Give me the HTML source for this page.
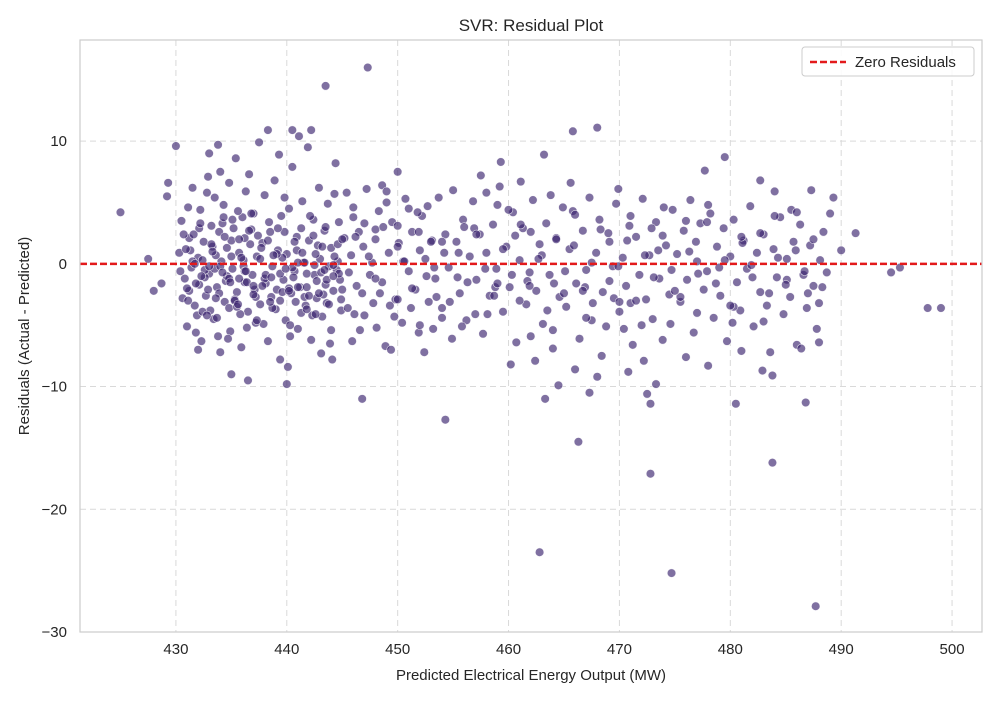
<!DOCTYPE html>
<html><head><meta charset="utf-8">
<style>
html,body{margin:0;padding:0;background:#fff;}
svg text{font-family:"Liberation Sans","DejaVu Sans",sans-serif;fill:#262626;}
</style></head>
<body>
<svg id="chart" width="1000" height="700" xmlns="http://www.w3.org/2000/svg">
<rect x="0" y="0" width="1000" height="700" fill="#fff"/>
<g id="grid"></g>
<g id="points"></g>
<g id="zero"></g>
<rect x="80" y="40" width="902" height="592" fill="none" stroke="#ccc" stroke-width="1.2"/>
<g id="ticks"></g>
<text x="531" y="31" text-anchor="middle" font-size="17">SVR: Residual Plot</text>
<text x="531" y="680" text-anchor="middle" font-size="15">Predicted Electrical Energy Output (MW)</text>
<text transform="translate(29,336) rotate(-90)" text-anchor="middle" font-size="15">Residuals (Actual - Predicted)</text>
<g>
<rect x="802" y="47" width="172" height="29" rx="3" fill="#fff" fill-opacity="0.85" stroke="#ccc"/>
<line x1="810" y1="62" x2="846" y2="62" stroke="#e31a1c" stroke-width="2.5" stroke-dasharray="7,3"/>
<text x="855" y="67" font-size="15">Zero Residuals</text>
</g>
</svg>
<script>
const xTicks=[430,440,450,460,470,480,490,500];
const yTicks=[-30,-20,-10,0,10];
const predicted=[425,427.5,428,428.7,429.3,429.2,430,447.3,443.5,446.8,454.3,462.8,474.7,487.7,472.8,483.8,466.3,497.8,499,494.5,495.3,491.3,490,468,465.8,436.5,435,440,480.5,486.8,463.3,464.5,467.3,472.5,472.8,473.3,487.3,479.5,477.7,482.7,438.3,442.2,440.5,433.8,437.5,463.2,459.3,455,450,448.6,
430.5,430.8,431,431.2,431.5,431.7,432,432.2,432.3,432.5,432.7,432.9,433,433.2,433.4,433.5,433.7,433.9,434,434.1,434.3,434.4,434.6,434.8,434.9,435.1,435.2,435.4,435.5,435.7,435.9,436,436.2,436.3,436.5,436.7,436.9,437,437.2,437.4,430.3,430.6,431.1,431.4,431.9,432.1,432.6,432.8,433.1,433.6,433.8,434.2,434.5,434.7,435,435.3,435.6,435.8,436.1,436.4,436.6,436.8,437.1,437.3,431.3,432.4,433.3,434.8,435.7,436.2,433,432,434,431.8,
437.6,437.8,438,438.1,438.3,438.5,438.7,438.9,439,439.2,439.4,439.5,439.7,439.9,440,440.2,440.4,440.5,440.7,440.9,441,441.2,441.4,441.5,441.7,441.9,442,442.2,442.4,442.5,442.7,442.9,443,443.2,443.4,443.5,443.7,443.9,444,444.2,444.4,444.5,444.7,444.9,437.9,438.4,439.1,439.8,440.3,440.8,441.3,441.8,442.3,442.8,443.3,443.8,444.3,444.8,438.6,439.6,440.6,441.6,442.6,443.6,444.6,439.3,441.1,440.1,443.1,444.1,
445.2,445.5,445.8,446,446.3,446.6,446.9,447.2,447.5,447.8,448,448.3,448.6,448.9,449.2,449.5,449.8,450.1,450.4,450.7,451,451.3,451.6,451.9,452.2,452.5,452.8,453.1,453.4,453.7,454,454.3,454.6,454.9,445.4,446.1,447,447.7,448.4,449,449.7,450.5,451.2,452,452.7,453.5,454.2,446.5,448.1,450,451.8,453.2,445.9,449.4,452.4,
455.3,455.6,455.9,456.2,456.5,456.8,457.1,457.4,457.7,458,458.3,458.6,458.9,459.2,459.5,459.8,460.1,460.4,460.7,461,461.3,461.6,461.9,462.2,462.5,462.8,463.1,463.4,463.7,464,464.3,464.6,464.9,455.8,456.9,458.1,459,460.2,461.1,462,463,464.1,457.5,460.6,462.4,463.8,455.4,458.8,461.7,
465.2,465.5,465.8,466.1,466.4,466.7,467,467.3,467.6,467.9,468.2,468.5,468.8,469.1,469.4,469.7,470,470.3,470.6,470.9,471.2,471.5,471.8,472.1,472.4,472.7,473,473.3,473.6,473.9,474.2,474.5,474.8,466,468.4,469.9,471,472.2,473.5,474.6,465.6,467.5,470.4,472.9,466.9,469.5,468,470.8,
475.2,475.5,475.8,476.1,476.4,476.7,477,477.3,477.6,477.9,478.2,478.5,478.8,479.1,479.4,479.7,480,480.3,480.6,480.9,481.2,481.5,481.8,482.1,482.4,482.7,483,483.3,483.6,483.9,484.2,484.5,484.8,485.1,485.4,485.7,486,486.3,486.6,486.9,487.2,487.5,487.8,488.1,488.4,488.7,489,489.3,476,478,481,483.8,485.5,487,479,482,484,476.9,480.2,482.9,486.4,488,
430.4,430.9,431.2,431.6,432.1,432.4,432.8,433.2,433.5,433.9,434.3,434.6,435,435.3,435.7,436.1,436.4,436.8,437.2,437.6,438,438.3,438.7,439.1,439.4,439.8,440.2,440.5,440.9,441.3,441.6,442,442.4,442.7,443.1,443.5,443.8,444.2,444.6,444.9,
430.7,431.1,431.5,431.8,432.2,432.6,432.9,433.3,433.7,434,434.4,434.8,435.1,435.5,435.9,436.2,436.6,437,437.3,437.7,438.1,438.5,438.8,439.2,439.6,439.9,440.3,440.7,441,441.4,441.8,442.1,442.5,442.9,443.2,443.6,444,444.3,444.7,445,
431,431.7,432.3,433,433.6,434.2,434.9,435.6,436.3,437,437.8,438.6,439.4,440.2,441,441.8,442.6,443.4,444.2,445,
445.6,446.2,446.8,447.4,448,448.7,449.3,450,450.6,451.3,451.9,452.6,453.3,454,454.7,455.5,456.3,457.1,457.9,458.7,459.5,460.3,461.1,461.9,462.7,463.5,464.3,465.1,465.9,466.7,467.5,468.3,469.1,469.9,470.7,471.5,472.3,473.1,473.9,474.7,475.5,476.3,477.1,477.9,478.7,479.5,480.3,481.1,481.9,482.7,483.5,484.3,485.1,485.9,486.7,487.5,488.3,
446,447,448,449,450,451,452,453,454,456,457,458,459,460,461,462,464,465,466,467,469,470,471,472,474,475,476,477,478,480,481,483,484,485,486,488];
const residual=[4.2,0.4,-2.2,-1.6,6.6,5.5,9.6,16,14.5,-11,-12.7,-23.5,-25.2,-27.9,-17.1,-16.2,-14.5,-3.6,-3.6,-0.7,-0.3,2.5,1.1,11.1,10.8,-9.5,-9,-9.8,-11.4,-11.3,-11,-9.9,-10.5,-10.6,-11.4,-9.8,6,8.7,7.6,6.8,10.9,10.9,10.9,9.7,9.9,8.9,8.3,6,7.5,6.4,
3.5,-1.2,-5.1,2.1,6.2,-3.4,0.5,4.4,-6.3,1.8,-2.6,7.1,-0.8,3.1,-4.5,5.4,-1.9,2.6,-7.2,0.2,4.8,-3.1,1.3,6.6,-5.5,-0.4,2.9,8.6,-2.3,0.9,-6.8,3.8,-1.5,5.9,-3.9,1.6,-0.9,4.1,-4.8,2.3,0.9,-2.8,4.6,-0.3,-4.2,2.9,-1.1,5.8,-3.8,0.7,-5.9,3.3,-1.4,-6.1,1.9,-2.9,4.3,-4.1,0.3,-5.2,7.3,2.8,-2.1,0.6,1.1,-3.9,1.4,-3.6,-1.2,2.1,9,-7,7.5,-5.6,
-3.3,1.7,5.6,-1.6,-6.3,2.6,-0.2,6.8,-3.7,1.1,-7.8,3.9,-1.3,-4.6,0.8,4.5,-2.4,7.9,-0.6,2.2,-5.3,-1.9,5.1,0.1,-3.4,9.5,1.9,-6.2,3.6,-0.9,-2.8,6.2,0.4,-4.3,2.7,-1.7,4.9,-6.5,1.3,-2.2,8.2,-0.5,3.4,-3.8,-4.9,3.4,-2.1,5.4,-5.9,-3.1,2.9,-0.8,-4.2,1.5,-2.5,-0.2,5.7,-1.3,-2.7,0.5,-1.1,-2.7,0.8,-3.2,0.2,8.9,10.4,-8.4,-7.3,-7.8,
2.1,-3.6,0.7,4.6,-1.8,-5.4,1.4,6.1,-0.9,-3.2,2.8,4.3,-1.5,-6.7,0.9,3.4,-2.9,1.7,-4.8,5.3,-0.6,2.6,-2.1,-5.6,3.9,0.4,-3.1,1.9,-1.2,5.4,-4.4,2.4,-0.3,-6.1,5.8,-4.1,3.3,0.1,-2.4,5.9,-4.3,0.2,-3.6,1.1,4.7,-2.7,0.9,2.6,-5.2,3.1,4.2,-5.3,-6.3,-7,-7.2,
1.8,-2.4,3.6,-4.6,0.6,5.1,-1.3,2.4,-5.7,0.9,-2.6,3.2,-0.4,6.3,-3.9,1.4,-1.9,4.2,-6.4,0.3,2.9,-3.3,-0.7,5.2,-2.2,1.6,-4.9,3.3,-0.9,-6.9,2.1,-2.7,4.6,-5.1,2.9,-4.1,4.8,-8.2,6.7,-5.9,0.7,-1.6,7.2,2.3,-7.9,5.6,-1.1,-1.9,-1.4,
-3.5,1.2,4.3,-1.6,-6.1,2.7,-0.5,5.4,-3.2,0.9,3.6,-2.3,-5.1,1.8,-0.2,4.9,-3.9,0.5,-1.8,3.1,-6.6,2.2,-0.9,5.3,-2.9,0.7,-4.5,3.4,-1.2,-6.2,1.5,-2.5,4.4,-8.6,-7.5,6.1,-3.2,-7.9,1.1,-4.9,6.6,-4.6,-5.3,2.9,-1.9,-2.8,-9.2,-8.8,
0.8,-3.1,2.7,-1.3,5.2,-5.6,0.2,3.3,-2.1,-0.6,4.1,-4.4,1.4,-2.6,2.9,-6.3,0.6,3.6,-1.5,-3.8,1.9,-0.4,4.7,-5.1,0.9,-2.3,2.4,-3.4,-7.2,1.2,-1.1,3.8,-4.1,0.4,-2.7,1.8,-6.6,3.2,-0.9,-3.6,1.5,-1.8,-5.3,0.3,2.6,-0.7,4.1,5.4,-7.6,-8.3,-7.1,-9.1,4.4,-2.4,-0.3,-1.1,5.9,1.8,-4.8,-8.7,-6.9,-6.4,
-0.6,1.2,-2.2,2.4,-1.7,0.3,-4.2,1.6,-0.4,-2.4,3.8,-1.0,0.6,-3.0,2.0,-0.2,-1.5,4.1,-2.7,0.4,-1.2,1.9,-3.6,0.8,-0.8,2.6,-2.0,-0.3,1.1,-4.0,0.1,-2.6,2.3,-1.4,-0.7,3.0,-3.3,-0.1,1.6,-2.9,
2.4,-3.0,0.2,-1.6,3.3,-0.5,-2.1,1.0,-4.4,-0.2,2.2,-1.2,3.6,-3.5,0.5,-0.6,2.7,-1.8,-4.6,1.3,-0.9,-3.1,0.7,2.9,-2.3,-0.4,-5.0,1.8,-1.9,0.9,-3.7,3.9,-0.1,-2.4,1.4,-1.3,-5.4,0.6,-0.8,2.0,
-2.0,0.0,-1.0,-0.2,-2.8,-0.7,-1.5,-3.3,-0.6,-2.5,-1.8,-1.1,-3.0,-2.2,0.1,-1.9,-4.1,-0.5,-1.0,-2.1,
-0.7,2.2,-2.4,0.6,-1.2,3.0,-3.4,1.4,0.2,-2.0,2.6,-1.0,-0.3,1.8,-3.1,0.9,-1.5,2.4,-0.4,-2.6,1.2,-0.9,3.2,-1.8,0.4,-3.8,2.0,-0.6,1.5,-2.2,0.1,2.8,-1.4,-0.2,1.9,-3.0,0.7,-1.1,2.3,-0.5,-2.7,1.0,-0.8,3.4,-1.6,0.3,-3.5,1.7,-0.1,2.5,-2.4,0.5,-1.3,1.1,-0.6,2.0,-1.9,
3.8,-4.2,2.0,5.0,-2.9,4.5,-5.0,1.8,-3.6,3.0,-4.1,5.8,-1.6,4.4,-3.0,2.6,-5.4,-2.4,4.0,-4.4,2.5,-3.1,3.9,-5.0,4.6,-2.2,3.5,-4.0,4.8,-3.4,2.2,-4.7,3.9,-1.7,4.2,-3.2];
const NS='http://www.w3.org/2000/svg';
const L=80,R=982,T=40,B=632,xMin=421.35,xMax=502.7,yMin=-30,yMax=18.24;
function sx(v){return L+(v-xMin)/(xMax-xMin)*(R-L);}
function sy(v){return B-(v-yMin)/(yMax-yMin)*(B-T);}
function mk(tag,attrs,parent){const e=document.createElementNS(NS,tag);for(const k in attrs)e.setAttribute(k,attrs[k]);parent.appendChild(e);return e;}
const grid=document.getElementById('grid'),ticks=document.getElementById('ticks');
xTicks.forEach(t=>{
  const l=mk('line',{x1:sx(t),x2:sx(t),y1:T,y2:B,stroke:'#d9d9d9','stroke-dasharray':'6,4','stroke-width':1},grid);
  
  
  const tx=mk('text',{x:sx(t),y:B+22,'text-anchor':'middle','font-size':15},ticks);
  tx.textContent=t;
  
  
});
yTicks.forEach(t=>{
  const l=mk('line',{x1:L,x2:R,y1:sy(t),y2:sy(t),stroke:'#d9d9d9','stroke-dasharray':'6,4','stroke-width':1},grid);
  
  
  const tx=mk('text',{x:L-13,y:sy(t)+5,'text-anchor':'end','font-size':15},ticks);
  tx.textContent=t<0?'\u2212'+Math.abs(t):t;
  
  
});
const pts=document.getElementById('points');
const n=Math.min(predicted.length,residual.length);
for(let i=0;i<n;i++){
  const c=mk('circle',{cx:sx(predicted[i]),cy:sy(residual[i]),r:4.3,fill:'rgb(58,36,110)','fill-opacity':0.65,stroke:'#fff','stroke-width':0.6,'stroke-opacity':0.8},pts);
  
  
}
const z=mk('line',{x1:L,x2:R,y1:sy(0),y2:sy(0),stroke:'#e31a1c','stroke-width':2.5,'stroke-dasharray':'7,3'},document.getElementById('zero'));


</script>
</body></html>
